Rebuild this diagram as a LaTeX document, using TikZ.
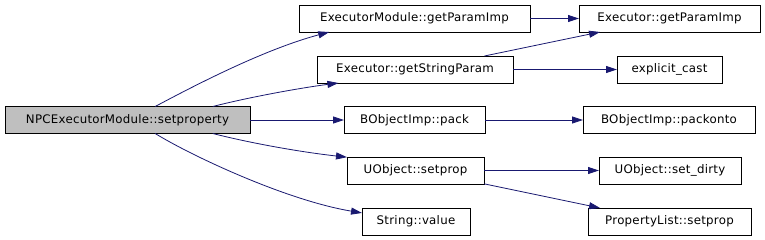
\documentclass[tikz,border=0pt]{standalone}
\usepackage{fontspec}
\setmainfont{DejaVu Sans}[LetterSpace=2.2]
\usetikzlibrary{arrows.meta}

\begin{document}
\begin{tikzpicture}[
      x=1pt, y=1pt,
      font=\fontsize{11.8}{14}\selectfont,
      fn/.style={draw, line width=0.9pt, minimum height=27pt, inner sep=0pt,
        outer sep=0pt, fill=white},
      cur/.style={fn, fill=gray!50},
      call/.style={draw=midnight, line width=0.8pt,
        -{Triangle[length=11pt, width=7pt]}}
    ]
    \definecolor{midnight}{HTML}{191970}
    \useasboundingbox (0,0) rectangle (765,240);

    \node[cur, minimum width=245pt] (npc)    at (127.5,120)   {NPCExecutorModule::setproperty};

    \node[fn, minimum width=231pt]  (emod)   at (414.5,221.5) {ExecutorModule::getParamImp};
    \node[fn, minimum width=196pt]  (gsp)    at (415,170.5)   {Executor::getStringParam};
    \node[fn, minimum width=141pt]  (pack)   at (414.5,120)   {BObjectImp::pack};
    \node[fn, minimum width=137pt]  (setp)   at (415.5,69.5)  {UObject::setprop};
    \node[fn, minimum width=108pt]  (sval)   at (416,18.5)    {String::value};

    \node[fn, minimum width=181pt]  (gpi)    at (669.5,221.5) {Executor::getParamImp};
    \node[fn, minimum width=105pt]  (ecast)  at (669.5,170.5) {explicit\_cast};
    \node[fn, minimum width=172pt]  (pkonto) at (669,120)     {BObjectImp::packonto};
    \node[fn, minimum width=142pt]  (sdirty) at (670,69.5)    {UObject::set\_dirty};
    \node[fn, minimum width=163pt]  (plist)  at (669.5,18.5)  {PropertyList::setprop};

    % calls out of setproperty
    \draw[call] (npc.26) .. controls (190,152) and (262,190) .. (emod.189);
    \draw[call] (npc.9) .. controls (250,143) and (300,152) .. (gsp.190);
    \draw[call] (npc.east) -- (pack.west);
    \draw[call] (npc.-9) .. controls (250,97) and (300,88) .. (setp.169);
    \draw[call] (npc.-26) .. controls (190,85) and (285,40) .. (sval.171);

    % second level
    \draw[call] (emod.east) -- (gpi.west);
    \draw[call] (gsp.11) -- (gpi.191);
    \draw[call] (gsp.east) -- (ecast.west);
    \draw[call] (pack.east) -- (pkonto.west);
    \draw[call] (setp.east) -- (sdirty.west);
    \draw[call] (setp.-11) -- (plist.169);
  \end{tikzpicture}
\end{document}
